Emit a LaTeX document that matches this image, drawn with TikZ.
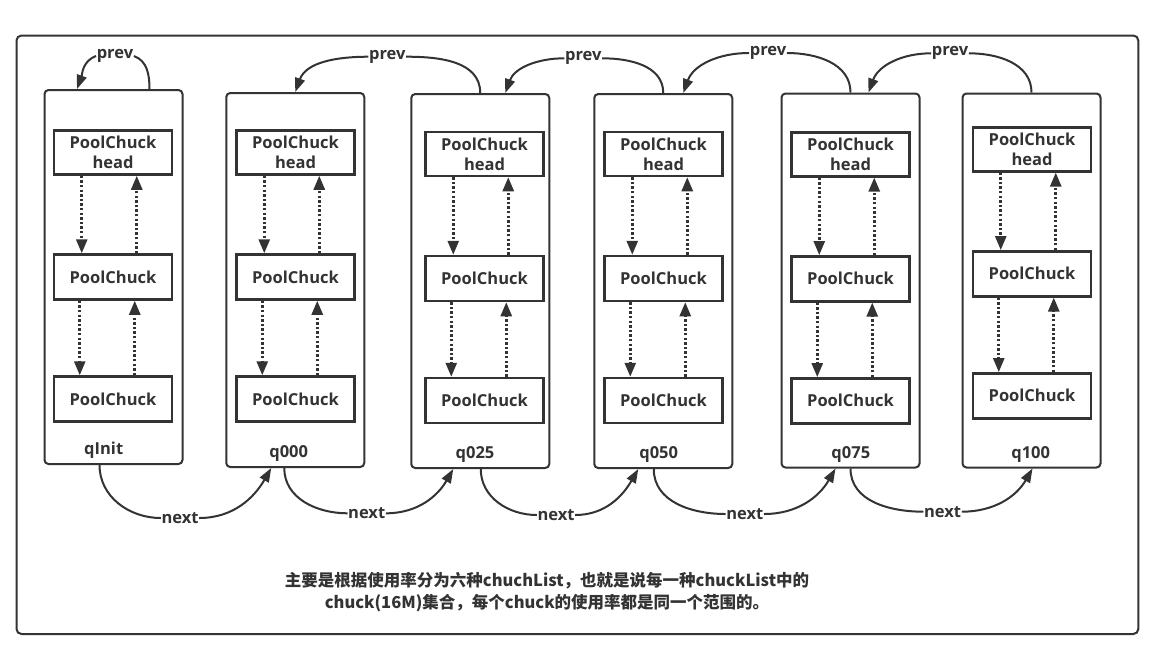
\documentclass[tikz,border=0pt]{standalone}
\usepackage{fontspec}
\setmainfont{Open Sans}
\newfontfamily\cjk{Noto Sans CJK SC}
\usetikzlibrary{arrows.meta,calc}
\definecolor{ink}{HTML}{333333}
\tikzset{
  listbox/.style={draw=ink, line width=2pt, rounded corners=4pt, minimum width=138pt, minimum height=374pt, inner sep=0pt},
  chunk/.style={draw=ink, line width=2.5pt, minimum width=118pt, inner sep=0pt, font=\fontsize{16.5}{20}\selectfont\bfseries, text=ink, align=center},
  dotarr/.style={draw=ink, line width=2.6pt, dash pattern=on 2.4pt off 2.2pt, -{Triangle[length=14pt,width=11pt]}},
  link/.style={draw=ink, line width=2pt, -{Triangle[length=14pt,width=10pt]}},
  lbl/.style={font=\fontsize{16.5}{20}\selectfont\bfseries, text=ink, inner sep=0.5pt, fill=white},
  qlbl/.style={font=\fontsize{16.5}{20}\selectfont\bfseries, text=ink, inner sep=1pt},
}
\begin{document}
\begin{tikzpicture}[x=1pt,y=1pt]
\useasboundingbox (0,0) rectangle (1155,-657);
\fill[white] (0,0) rectangle (1155,-657);
\draw[ink, line width=2pt, rounded corners=5pt] (16.5,-35.5) rectangle (1138.3,-634);

\foreach \i/\cx/\ty/\bx/\hy/\lx/\qname in {
  0/113.5/90/54/130.5/103.7/qInit,
  1/295.25/93/236.5/130.5/288.7/q000,
  2/480.25/94/425.5/132/475/q025,
  3/663.25/94/604.5/132/658.7/q050,
  4/850.5/93.5/791.5/132.3/850.8/q075,
  5/1031.5/93.5/973/127.3/1030.7/q100}{
  \node[listbox] (L\i) at (\cx,-\ty-187) {};
  \node[chunk, minimum height=44pt] (H\i) at (\bx+59,-\hy-22) {PoolChuck\\head};
  \node[chunk, minimum height=45pt] (M\i) at (\bx+59,-\hy-146.5) {PoolChuck};
  \node[chunk, minimum height=45pt] (B\i) at (\bx+59,-\hy-268.5) {PoolChuck};
  \node[qlbl] (T\i) at (\lx,-\ty-360.5) {\qname};
  \draw[dotarr] ($(H\i.south west)+(29,0)$) -- ($(M\i.north west)+(29,0)$);
  \draw[dotarr] ($(M\i.north west)+(84,0)$) -- ($(H\i.south west)+(84,0)$);
  \draw[dotarr] ($(M\i.south west)+(27,0)$) -- ($(B\i.north west)+(27,0)$);
  \draw[dotarr] ($(B\i.north west)+(82,0)$) -- ($(M\i.south west)+(82,0)$);
}

% prev links
\node[lbl] (P0) at (115,-56) {prev};
\node[lbl] (P1) at (387.3,-56.7) {prev};
\node[lbl] (P2) at (583.3,-58.3) {prev};
\node[lbl] (P3) at (768,-53) {prev};
\node[lbl] (P4) at (950,-53.3) {prev};
\draw[link] ($(L0.north)+(36,0)$) to[out=90,in=-20] (P0.east) (P0.west) to[out=200,in=70] ($(L0.north)+(-36.5,0)$);
\draw[link] (L2.north) to[out=90,in=0] (P1.east) (P1.west) to[out=180,in=70] (L1.north);
\draw[link] (L3.north) to[out=90,in=0] (P2.east) (P2.west) to[out=180,in=70] ($(L2.north)+(25,0)$);
\draw[link] (L4.north) to[out=90,in=0] (P3.east) (P3.west) to[out=180,in=70] ($(L3.north)+(20,0)$);
\draw[link] (L5.north) to[out=90,in=0] (P4.east) (P4.west) to[out=180,in=70] ($(L4.north)+(18,0)$);

% next links
\node[lbl] (N0) at (180,-518) {next};
\node[lbl] (N1) at (366.7,-513.3) {next};
\node[lbl] (N2) at (556,-515) {next};
\node[lbl] (N3) at (744.8,-514) {next};
\node[lbl] (N4) at (942.6,-511.7) {next};
\draw[link] ($(L0.south)+(-14,0)$) to[out=-90,in=180] (N0.west) (N0.east) to[out=0,in=-120] ($(L1.south)+(-24,0)$);
\draw[link] ($(L1.south)+(-11,0)$) to[out=-90,in=180] (N1.west) (N1.east) to[out=0,in=-120] ($(L2.south)+(-27,0)$);
\draw[link] ($(L2.south)+(0.5,0)$) to[out=-90,in=180] (N2.west) (N2.east) to[out=0,in=-120] ($(L3.south)+(-25,0)$);
\draw[link] ($(L3.south)+(-9.5,0)$) to[out=-90,in=180] (N3.west) (N3.east) to[out=0,in=-120] ($(L4.south)+(-15,0)$);
\draw[link] (L4.south) to[out=-90,in=180] (N4.west) (N4.east) to[out=0,in=-120] ($(L5.south)+(1,0)$);

\node[text=ink, align=center, inner sep=0pt, font=\cjk\fontsize{16.5}{22}\selectfont\bfseries] (cap) at (547,-592)
  {主要是根据使用率分为六种chuchList，也就是说每一种chuckList中的\\chuck(16M)集合，每个chuck的使用率都是同一个范围的。};
\end{tikzpicture}
\end{document}
